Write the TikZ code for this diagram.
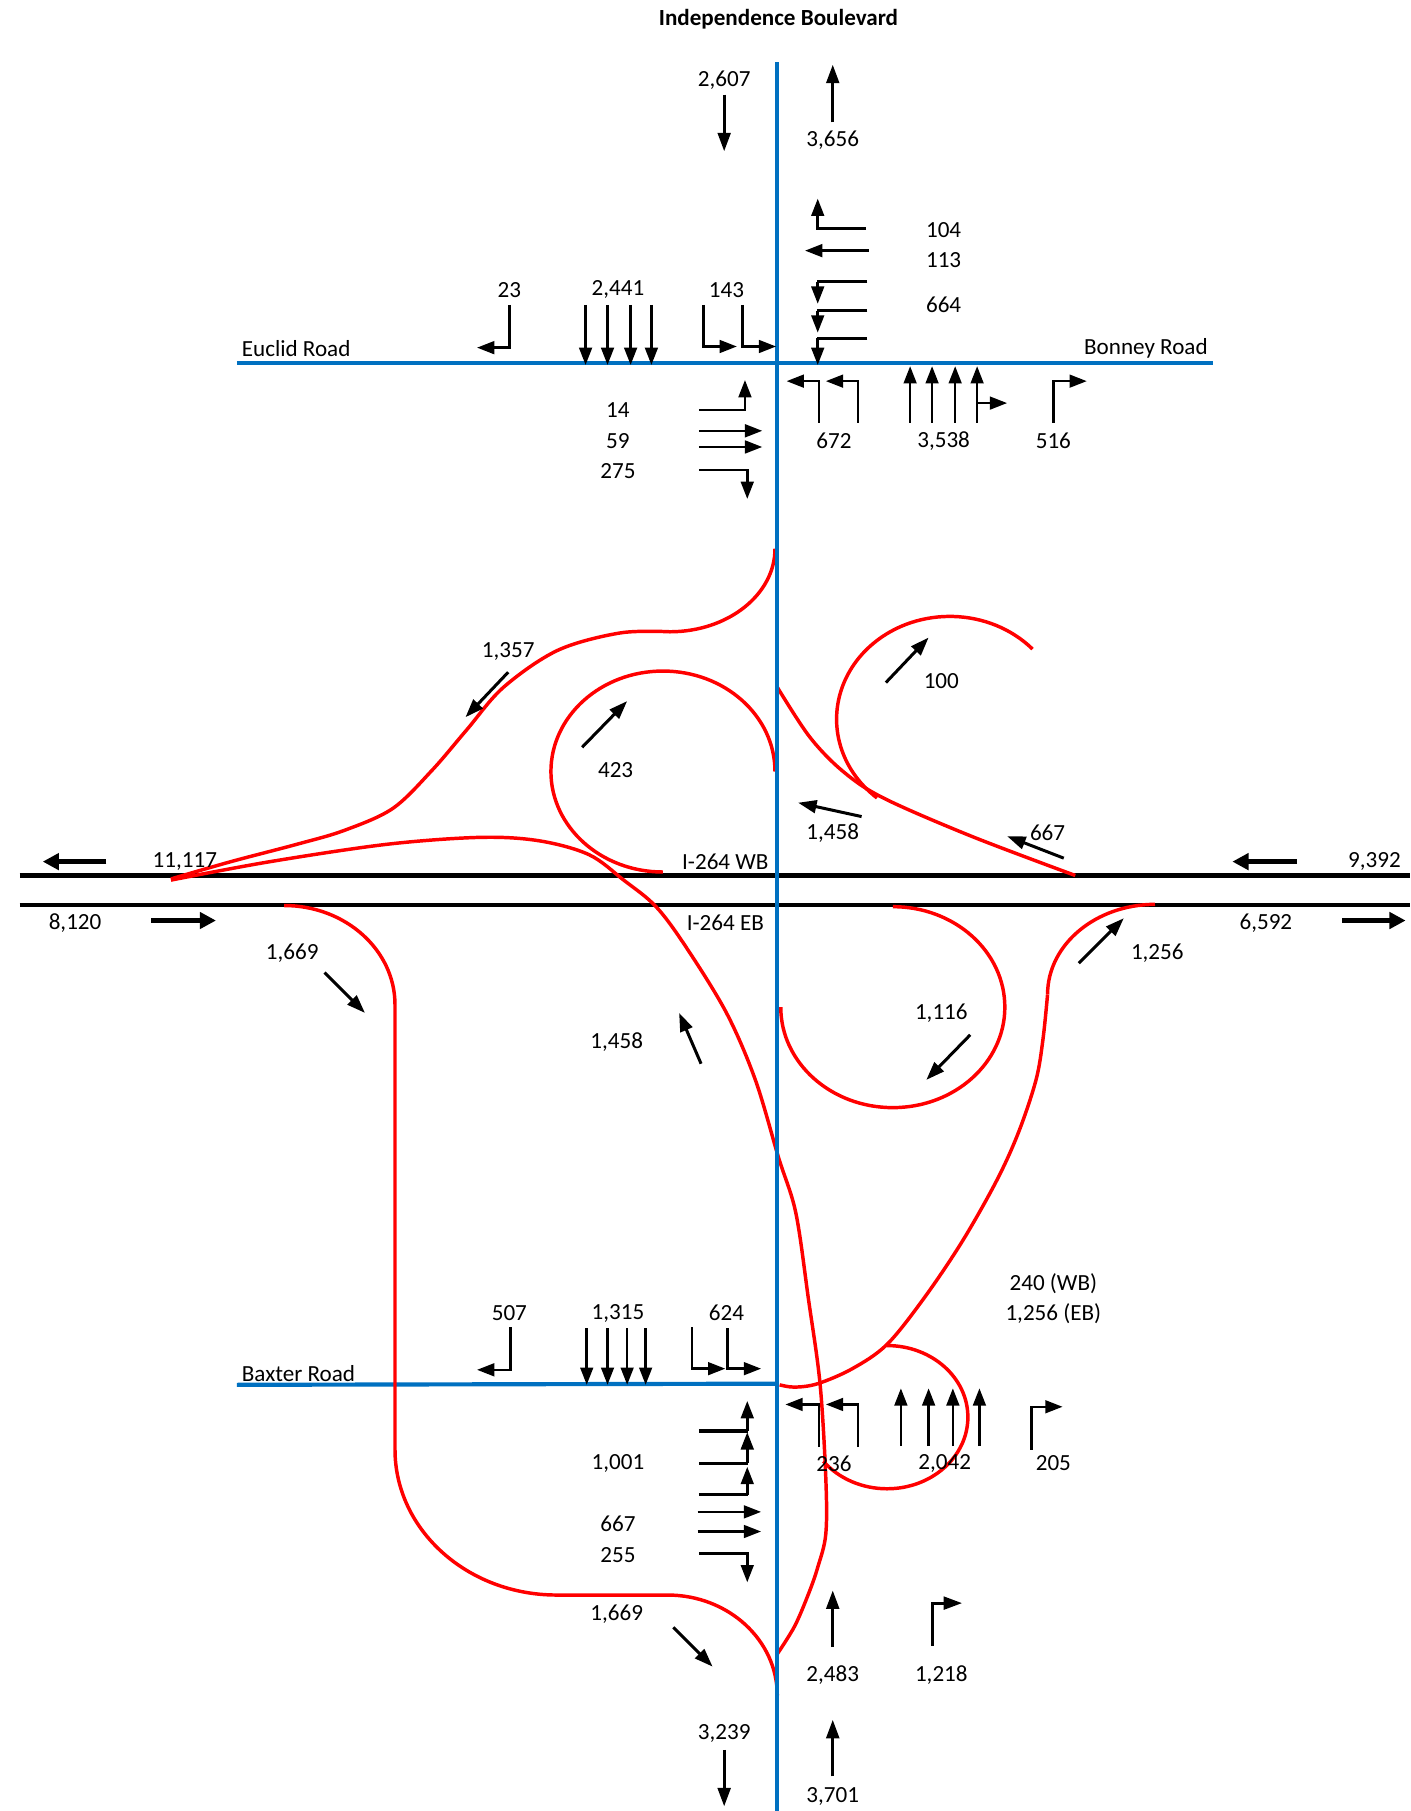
\documentclass[tikz,border=0pt]{standalone}
\usepackage{fontspec}
\setmainfont{Carlito}
\usetikzlibrary{arrows.meta}
\definecolor{roadblue}{RGB}{0,112,192}
\begin{document}
\begin{tikzpicture}[x=0.5pt,y=-0.5pt,
  lbl/.style={font=\fontsize{10}{12}\selectfont, inner sep=0pt},
  ar/.style={line width=1.3pt, -{Triangle[length=8pt,width=5.5pt]}},
  lane/.style={line width=1.1pt, -{Triangle[length=7.5pt,width=5.5pt]}},
  bar/.style={line width=1.4pt},
  hw/.style={line width=2pt, -{Triangle[length=7pt,width=7pt]}},
  road/.style={draw=roadblue, line width=1.8pt},
  fwy/.style={draw=black, line width=2pt},
  ramp/.style={draw=red, line width=1.5pt}]
\useasboundingbox (0,0) rectangle (1221,1568);

% ---------- roads ----------
\draw[fwy] (17,758) -- (1221,758);
\draw[fwy] (17,783.5) -- (1221,783.5);
\draw[road] (205,314) -- (1050,314);
\draw[road] (205,1199) -- (673,1198);

% ---------- ramps ----------
\draw[ramp] (671,475) arc[start angle=0, end angle=90, x radius=91, y radius=72];
\draw[ramp] plot[smooth, tension=0.55] coordinates {(580,547) (537,548) (483,563) (436,595) (404,632) (374,667) (340,700) (298,719) (257,731) (200,746) (148,761)};
\draw[ramp] plot[smooth, tension=0.55] coordinates {(148,762) (234,746) (335,731) (416,725) (467,728) (510,740) (540,762) (568,785) (594,820) (629,877) (654,935) (674,1002) (689,1050) (700,1125) (710,1198) (715,1280) (715,1328) (708,1357) (700,1380) (688,1408) (673,1432)};
\draw[ramp] (671,668) arc[start angle=0, end angle=-270, x radius=97, y radius=87];
\draw[ramp] (246,784) arc[start angle=-90, end angle=0, x radius=96, y radius=86] -- (342,1255) arc[start angle=180, end angle=90, x radius=140, y radius=126] -- (578,1381) arc[start angle=-90, end angle=0, x radius=95, y radius=87];
\draw[ramp] (894,562) arc[start angle=-43, end angle=-230, x radius=98, y radius=89];
\draw[ramp] plot[smooth, tension=0.55] coordinates {(673,595) (701,638) (730,668) (765,691) (841,724) (931,758)};
\draw[ramp] (773,785) arc[start angle=-90, end angle=180, x radius=97, y radius=87];
\draw[ramp] (1000,783) arc[start angle=-90, end angle=-180, x radius=93, y radius=78];
\draw[ramp] plot[smooth, tension=0.55] coordinates {(907,861) (903,900) (897,935) (882,980) (863,1022) (833,1075) (800,1124) (768,1164) (738,1185) (708,1198) (688,1201) (675,1199)};
\draw[ramp] (768,1165) arc[start angle=-90, end angle=142, x radius=70, y radius=62];

\draw[road] (673,54) -- (673,1568);

% ---------- title ----------
\node[lbl, font=\fontsize{10}{12}\selectfont\bfseries] (title) at (674,17) {Independence Boulevard};

% ---------- top ----------
\node[lbl] (t2607) at (627,69) {2,607};
\draw[ar] (627,82) -- (627,131);
\node[lbl] (t3656) at (721,121) {3,656};
\draw[ar] (721,106) -- (721,56);

% ---------- Euclid / Bonney ----------
\node[lbl, anchor=west] (euclid) at (209,302) {Euclid Road};
\node[lbl, anchor=east] (bonney) at (1046,302) {Bonney Road};

\node[lbl] (t104) at (817,199) {104};
\node[lbl] (t113) at (817,225) {113};
\node[lbl] (t664) at (817,264) {664};
\draw[lane] (750,198) -- (708,198) -- (708,172);
\draw[lane] (752,217) -- (697,217);
\draw[bar] (751,244) -- (707.5,244);
\draw[bar] (751,269) -- (707.5,269);
\draw[bar] (751,293) -- (707.5,293);
\draw[lane] (708,244) -- (708,263);
\draw[lane] (708,269) -- (708,288);
\draw[lane] (708,293) -- (708,316);

\node[lbl] (t23) at (441,251) {23};
\node[lbl] (t2441) at (535,251) {2,441};
\node[lbl] (t143) at (629,251) {143};
\draw[lane] (441,264) -- (441,301) -- (413,301);
\foreach \xx in {507,526,546,564} \draw[lane] (\xx,264) -- (\xx,316);
\draw[lane] (609,264) -- (609,300) -- (638,300);
\draw[lane] (643,264) -- (643,300) -- (672,300);

\node[lbl] (t14) at (535,355) {14};
\node[lbl] (t59) at (535,382) {59};
\node[lbl] (t275) at (535,408) {275};
\draw[lane] (605,355) -- (645,355) -- (645,329);
\draw[lane] (605,373) -- (660,373);
\draw[lane] (605,387) -- (660,387);
\draw[lane] (605,407) -- (647,407) -- (647,432);

\node[lbl] (t672) at (722,382) {672};
\node[lbl] (t3538) at (817,382) {3,538};
\node[lbl] (t516) at (912,382) {516};
\draw[lane] (709,366) -- (709,330) -- (681,330);
\draw[lane] (743,366) -- (743,330) -- (715,330);
\foreach \xx in {788,807,827,846} \draw[lane] (\xx,366) -- (\xx,317);
\draw[lane] (846,349) -- (872,349);
\draw[lane] (912,366) -- (912,330) -- (941,330);

% ---------- interchange ----------
\node[lbl] (t1357) at (440,564) {1,357};
\draw[ar] (440,582) -- (403,621);
\node[lbl] (t100) at (815,590) {100};
\draw[ar] (767,591) -- (804,552);
\node[lbl] (t423) at (533,667) {423};
\draw[ar] (504,647) -- (543,607);
\node[lbl] (t1458a) at (721,721) {1,458};
\draw[ar] (746,707) -- (691,695);
\node[lbl] (t667a) at (907,721) {667};
\draw[ar] (921,743) -- (872,724);

\node[lbl] (t11117) at (160,746) {11,117};
\node[lbl] (twb) at (628,746) {I-264 WB};
\node[lbl] (t9392) at (1190,746) {9,392};
\draw[hw] (92,746) -- (37,746);
\draw[hw] (1123,746) -- (1067,746);
\node[lbl] (t8120) at (65,799) {8,120};
\node[lbl] (teb) at (628,799) {I-264 EB};
\node[lbl] (t6592) at (1096,799) {6,592};
\draw[hw] (131,797) -- (187,797);
\draw[hw] (1162,797) -- (1217,797);

\node[lbl] (t1669a) at (253,825) {1,669};
\draw[ar] (281,842) -- (316,877);
\node[lbl] (t1256a) at (1002,825) {1,256};
\draw[ar] (934,834) -- (973,795);
\node[lbl] (t1116) at (815,877) {1,116};
\draw[ar] (840,896) -- (802,935);
\node[lbl] (t1458b) at (534,902) {1,458};
\draw[ar] (607,921) -- (588,877);

% ---------- Baxter ----------
\node[lbl, anchor=west] (baxter) at (209,1189) {Baxter Road};
\node[lbl] (t240) at (912,1111) {240 (WB)};
\node[lbl] (t1256b) at (912,1137) {1,256 (EB)};

\node[lbl] (t507) at (441,1137) {507};
\node[lbl] (t1315) at (535,1137) {1,315};
\node[lbl] (t624) at (629,1137) {624};
\draw[lane] (442,1149) -- (442,1186) -- (413,1186);
\foreach \xx in {508,526,543,559} \draw[lane] (\xx,1150) -- (\xx,1199);
\draw[lane] (599,1149) -- (599,1185) -- (628,1185);
\draw[lane] (630,1150) -- (630,1185) -- (659,1185);

\node[lbl] (t1001) at (535,1267) {1,001};
\draw[bar] (605,1239) -- (647.5,1239);
\draw[bar] (605,1267) -- (647.5,1267);
\draw[bar] (605,1294) -- (647.5,1294);
\draw[lane] (647,1239) -- (647,1213);
\draw[lane] (647,1267) -- (647,1240);
\draw[lane] (647,1294) -- (647,1270);
\node[lbl] (t667b) at (535,1319) {667};
\node[lbl] (t255) at (535,1346) {255};
\draw[lane] (604,1309) -- (659,1309);
\draw[lane] (604,1326) -- (659,1326);
\draw[lane] (605,1345) -- (647,1345) -- (647,1370);

\node[lbl] (t236) at (722,1267) {236};
\node[lbl] (t2042) at (818,1267) {2,042};
\node[lbl] (t205) at (912,1267) {205};
\draw[lane] (709,1253) -- (709,1216) -- (680,1216);
\draw[lane] (743,1253) -- (743,1216) -- (715,1216);
\foreach \xx in {780,804,825,848} \draw[lane] (\xx,1252) -- (\xx,1202);
\draw[lane] (893,1255) -- (893,1218) -- (920,1218);

% ---------- bottom ----------
\node[lbl] (t1669b) at (534,1398) {1,669};
\draw[ar] (583,1409) -- (617,1443);
\node[lbl] (t2483) at (721,1450) {2,483};
\draw[ar] (721,1426) -- (721,1377);
\node[lbl] (t1218) at (815,1450) {1,218};
\draw[ar] (807,1425) -- (807,1388) -- (833,1388);
\node[lbl] (t3239) at (627,1501) {3,239};
\draw[ar] (627,1515) -- (627,1564);
\node[lbl] (t3701) at (721,1555) {3,701};
\draw[ar] (721,1538) -- (721,1489);
\end{tikzpicture}
\end{document}
